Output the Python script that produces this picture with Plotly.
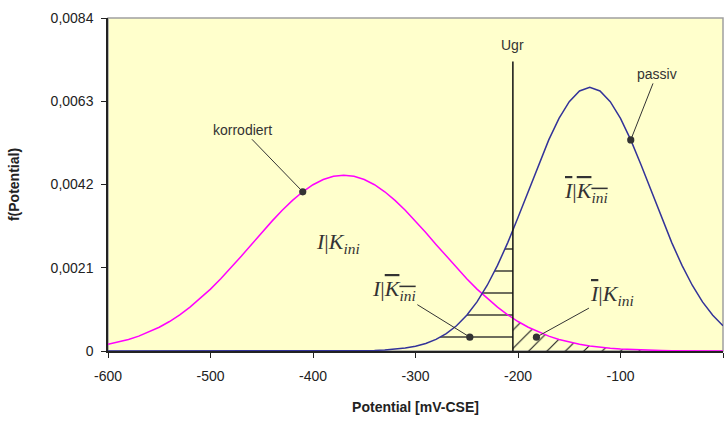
import numpy as np
import plotly.graph_objects as go

# Potential grid [mV-CSE]
potential = list(range(-600, 1, 10))

# Density of the corroding population ("korrodiert")
f_korrodiert = [
    0.000169, 0.000223, 0.000291, 0.000375, 0.000478, 0.000600, 0.000744, 0.000913,
    0.001106, 0.001322, 0.001562, 0.001822, 0.002100, 0.002391, 0.002689, 0.002987,
    0.003276, 0.003550, 0.003799, 0.004016, 0.004194, 0.004325, 0.004406, 0.004433,
    0.004406, 0.004325, 0.004194, 0.004016, 0.003799, 0.003550, 0.003276, 0.002987,
    0.002689, 0.002391, 0.002100, 0.001822, 0.001562, 0.001322, 0.001106, 0.000913,
    0.000744, 0.000600, 0.000478, 0.000375, 0.000291, 0.000223, 0.000169, 0.000127,
    0.000094, 0.000068, 0.000049, 0.000035, 0.000025, 0.000017, 0.000012, 0.000008,
    0.000005, 0.000004, 0.000002, 0.000002, 0.000001,
]

# Density of the passive population ("passiv")
f_passiv = [
    0.0, 0.0, 0.0, 0.0, 0.0, 0.0, 0.0, 0.0, 0.0, 0.0, 0.0, 0.0, 0.0,
    0.0, 0.0, 0.0, 0.0, 0.0, 0.0, 0.0, 0.0, 0.0, 0.0, 0.0, 0.0, 0.0,
    0.000015, 0.000026, 0.000044, 0.000074, 0.000120, 0.000190, 0.000292, 0.000437,
    0.000636, 0.000900, 0.001239, 0.001659, 0.002159, 0.002734, 0.003367, 0.004033,
    0.004699, 0.005325, 0.005869, 0.006291, 0.006558, 0.006650, 0.006558, 0.006291,
    0.005869, 0.005325, 0.004699, 0.004033, 0.003367, 0.002734, 0.002159, 0.001659,
    0.001239, 0.000900, 0.000636,
]

# Threshold potential
UGR = -205

x_tickvals = [-600, -500, -400, -300, -200, -100, 0]
x_ticktext = ["-600", "-500", "-400", "-300", "-200", "-100", "0"]
y_tickvals = [0, 0.0021, 0.0042, 0.0063, 0.0084]
y_ticktext = ["0", "0,0021", "0,0042", "0,0063", "0,0084"]

pot = np.array(potential, dtype=float)
fk = np.array(f_korrodiert)
fp = np.array(f_passiv)

# Regions split at the threshold for the hatched areas
left = pot < UGR
right = pot > UGR
x_left = list(pot[left]) + [UGR]
y_left = list(fp[left]) + [float(np.interp(UGR, pot, fp))]
x_right = [UGR] + list(pot[right])
y_right = [float(np.interp(UGR, pot, fk))] + list(fk[right])

HATCH = "#222222"
fig = go.Figure()

fig.add_trace(go.Scatter(
    x=x_left, y=y_left, mode="none", fill="tozeroy",
    fillpattern=dict(shape="-", size=22, solidity=0.06, fgcolor=HATCH, fillmode="replace"),
    hoverinfo="skip", showlegend=False,
))
fig.add_trace(go.Scatter(
    x=x_right, y=y_right, mode="none", fill="tozeroy",
    fillpattern=dict(shape="/", size=13, solidity=0.09, fgcolor=HATCH, fillmode="replace"),
    hoverinfo="skip", showlegend=False,
))

fig.add_trace(go.Scatter(
    x=potential, y=f_korrodiert, mode="lines",
    line=dict(color="#FF00FF", width=1.5), showlegend=False,
))
fig.add_trace(go.Scatter(
    x=potential, y=f_passiv, mode="lines",
    line=dict(color="#333399", width=1.5), showlegend=False,
))

# Threshold line
fig.add_shape(type="line", xref="x", yref="y", x0=UGR, x1=UGR, y0=0, y1=0.0073,
              line=dict(color="#111111", width=1.5))

sans = "Liberation Sans, Arial, sans-serif"
serif = "Liberation Serif, Times New Roman, serif"
ov = '<span style="text-decoration:overline">'
MATH = dict(family=serif, size=22, color="#333333")
LBL = dict(family=sans, size=14, color="#333333")
ARROW = dict(showarrow=True, arrowhead=6, arrowsize=1.8, arrowwidth=1, arrowcolor="#333333")

annos = [
    dict(x=UGR, y=0.00772, text="Ugr", showarrow=False, font=LBL),
    dict(x=-410, y=f_korrodiert[potential.index(-410)], text="korrodiert",
         ax=-60, ay=-62, font=LBL, **ARROW),
    dict(x=-90, y=f_passiv[potential.index(-90)], text="passiv",
         ax=26, ay=-66, font=LBL, **ARROW),
    dict(x=-376, y=0.00273, showarrow=False,
         text="<i>I</i>|<i>K</i><sub><i>ini</i></sub>", font=MATH),
    dict(x=-134, y=0.0040, showarrow=False,
         text=ov + "<i>I</i></span>|" + ov + "<i>K</i><sub><i>ini</i></sub></span>",
         font=MATH),
    dict(x=-247, y=0.00035, ax=-76, ay=-47,
         text="<i>I</i>|" + ov + "<i>K</i><sub><i>ini</i></sub></span>",
         font=MATH, **ARROW),
    dict(x=-182, y=0.00035, ax=76, ay=-42,
         text=ov + "<i>I</i></span>|<i>K</i><sub><i>ini</i></sub>",
         font=MATH, **ARROW),
]

fig.update_layout(
    width=724, height=427,
    margin=dict(l=108, r=1, t=18, b=76),
    paper_bgcolor="white",
    plot_bgcolor="#FFFFCC",
    font=dict(family=sans, size=14, color="#222222"),
    annotations=annos,
    shapes=list(fig.layout.shapes) + [
        dict(type="rect", xref="paper", yref="paper", x0=0, x1=1, y0=0, y1=1,
             line=dict(color="#A0A0A0", width=1.5), layer="below"),
    ],
)

fig.update_xaxes(
    range=[-600, 0], tickvals=x_tickvals, ticktext=x_ticktext,
    showgrid=False, zeroline=False, showline=True, linecolor="#222222", linewidth=1.5,
    ticks="outside", ticklen=5, tickcolor="#222222", ticklabelstandoff=6,
    tickfont=dict(size=14),
    title=dict(text="<b>Potential [mV-CSE]</b>", font=dict(size=14), standoff=20),
)
fig.update_yaxes(
    range=[0, 0.0084], tickvals=y_tickvals, ticktext=y_ticktext,
    showgrid=False, zeroline=False, showline=True, linecolor="#222222", linewidth=1.5,
    ticks="outside", ticklen=5, tickcolor="#222222", ticklabelstandoff=5,
    tickfont=dict(size=14),
    title=dict(text="<b>f(Potential)</b>", font=dict(size=14), standoff=28),
)

fig.write_html("out.html")
